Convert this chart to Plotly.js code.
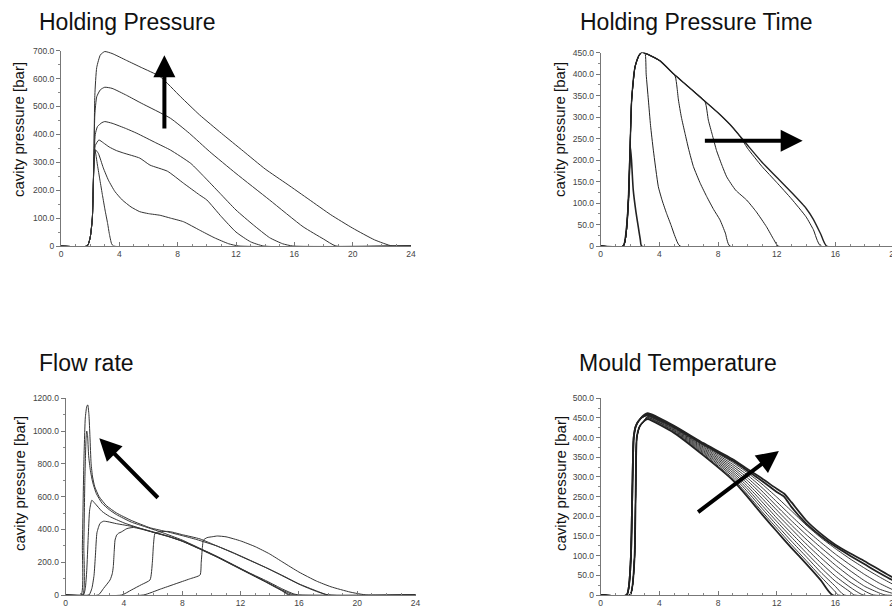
<!DOCTYPE html>
<html>
<head>
<meta charset="utf-8">
<script src="https://cdn.plot.ly/plotly-3.0.1.min.js"></script>
<style>
html,body{margin:0;padding:0;overflow:hidden;background:#fff;}
#chart{width:960px;height:608px;}
</style>
</head>
<body>
<div id="chart"></div>
<script>
// ---------- Tick labels ----------
const xTickVals = [0, 4, 8, 12, 16, 20, 24];
const xTickText = ['0', '4', '8', '12', '16', '20', '24'];
const hpTickVals = [0, 100, 200, 300, 400, 500, 600, 700];
const hpTickText = ['0', '100.0', '200.0', '300.0', '400.0', '500.0', '600.0', '700.0'];
const hptTickVals = [0, 50, 100, 150, 200, 250, 300, 350, 400, 450];
const hptTickText = ['0', '50.0', '100.0', '150.0', '200.0', '250.0', '300.0', '350.0', '400.0', '450.0'];
const frTickVals = [0, 200, 400, 600, 800, 1000, 1200];
const frTickText = ['0', '200.0', '400.0', '600.0', '800.0', '1000.0', '1200.0'];
const mtTickVals = [0, 50, 100, 150, 200, 250, 300, 350, 400, 450, 500];
const mtTickText = ['0', '50.0', '100.0', '150.0', '200.0', '250.0', '300.0', '350.0', '400.0', '450.0', '500.0'];

// ---------- Titles ----------
const panelTitles = ['Holding Pressure', 'Holding Pressure Time', 'Flow rate', 'Mould Temperature'];
const yTitle = 'cavity pressure [bar]';

// ---------- Holding Pressure (time [s], cavity pressure [bar]) ----------
const hpA_x = [0, 1.8, 2.0, 2.15, 2.25, 2.32, 2.45, 2.7, 3.0, 3.5, 4.5, 5.5, 6.8, 8.2, 9.5, 11, 12.5, 14, 15.5, 17, 18.5, 20, 21.5, 22.7, 24];
const hpA_y = [0, 0, 30, 100, 300, 540, 640, 685, 697, 690, 665, 640, 607, 535, 470, 404, 340, 276, 222, 167, 112, 64, 22, 0, 0];
const hpB_x = [0, 1.8, 2.0, 2.15, 2.25, 2.32, 2.45, 2.7, 3.0, 3.5, 4.5, 5.5, 7.5, 8.8, 10.2, 12, 14.3, 16.6, 18, 18.85, 24];
const hpB_y = [0, 0, 30, 100, 300, 470, 535, 560, 569, 565, 540, 512, 458, 404, 338, 260, 165, 69, 25, 0, 0];
const hpC_x = [0, 1.8, 2.0, 2.15, 2.25, 2.35, 2.5, 2.8, 3.0, 3.5, 4.5, 5.2, 6.5, 7.5, 8.9, 9.8, 10.9, 12, 13.2, 14.3, 15.2, 15.9, 24];
const hpC_y = [0, 0, 30, 100, 300, 400, 428, 442, 446, 440, 420, 404, 370, 344, 296, 249, 189, 129, 75, 30, 8, 0, 0];
const hpD_x = [0, 1.8, 2.0, 2.15, 2.25, 2.35, 2.6, 2.9, 3.3, 3.8, 4.3, 5.4, 6.1, 7.3, 8.4, 9.5, 10, 11, 12, 13, 13.9, 24];
const hpD_y = [0, 0, 30, 100, 280, 360, 380, 370, 355, 342, 333, 315, 290, 268, 225, 183, 165, 105, 50, 15, 0, 0];
const hpE_x = [0, 1.8, 2.0, 2.15, 2.25, 2.35, 2.56, 2.9, 3.25, 3.7, 4.2, 4.8, 5.4, 6.0, 6.8, 7.5, 8.4, 9.5, 10.5, 11.5, 12.2, 24];
const hpE_y = [0, 0, 30, 100, 280, 345, 332, 280, 236, 195, 165, 140, 123, 116, 110, 100, 87, 57, 30, 8, 0, 0];
const hpF_x = [0, 1.8, 2.0, 2.15, 2.25, 2.33, 2.5, 2.67, 2.85, 3.02, 3.2, 3.31, 3.47, 3.6, 24];
const hpF_y = [0, 0, 30, 100, 280, 344, 290, 236, 180, 129, 80, 45, 8, 0, 0];

// ---------- Holding Pressure Time ----------
const hpt1_x = [0, 1.54, 1.75, 1.89, 1.97, 2.03, 2.1, 2.22, 2.4, 2.56, 2.7, 2.79, 24];
const hpt1_y = [0, 0, 40, 107, 190, 230, 200, 130, 80, 45, 15, 0, 0];
const hpt2_x = [0, 1.54, 1.89, 2.0, 2.11, 2.34, 2.6, 2.8, 3.02, 3.1, 3.25, 3.4, 3.59, 3.93, 4.2, 4.49, 4.8, 5.07, 5.4, 24];
const hpt2_y = [0, 0, 107, 223, 340, 417, 443, 451, 449, 400, 340, 280, 223, 138, 105, 76, 48, 22, 0, 0];
const hpt3_x = [0, 1.54, 1.89, 2.0, 2.11, 2.34, 2.6, 2.8, 3.02, 4.0, 5.07, 5.2, 5.3, 5.5, 5.75, 6.0, 6.32, 6.8, 7.23, 7.7, 8.13, 8.5, 8.8, 24];
const hpt3_y = [0, 0, 107, 223, 340, 417, 443, 451, 449, 432, 396, 370, 340, 300, 262, 225, 185, 145, 115, 85, 61, 30, 0, 0];
const hpt4_x = [0, 1.54, 1.89, 2.0, 2.11, 2.34, 2.6, 2.8, 3.02, 4.0, 5.0, 6.0, 7.11, 7.34, 7.6, 7.9, 8.3, 8.59, 9.2, 9.95, 10.6, 11.3, 11.8, 12.1, 24];
const hpt4_y = [0, 0, 107, 223, 340, 417, 443, 451, 449, 432, 400, 370, 336, 293, 260, 222, 185, 161, 130, 107, 80, 45, 15, 0, 0];
const hpt5_x = [0, 1.54, 1.89, 2.0, 2.11, 2.34, 2.6, 2.8, 3.02, 4.0, 5.0, 6.0, 7.0, 8.0, 9.0, 9.5, 10, 11, 12, 13, 14, 14.5, 15.0, 24];
const hpt5_y = [0, 0, 107, 223, 340, 417, 443, 451, 449, 432, 400, 370, 340, 310, 276, 255, 228, 185, 148, 110, 68, 38, 0, 0];
const hpt6_x = [0, 1.54, 1.89, 2.0, 2.11, 2.34, 2.6, 2.8, 3.02, 4.0, 5.0, 6.0, 7.0, 8.0, 9.0, 10, 11, 12, 13, 14, 14.5, 15.0, 15.4, 24];
const hpt6_y = [0, 0, 107, 223, 340, 417, 443, 451, 449, 432, 400, 370, 340, 310, 276, 235, 195, 160, 125, 88, 62, 28, 0, 0];

// ---------- Flow rate ----------
const fr1_x = [0, 1.06, 1.15, 1.25, 1.35, 1.45, 1.52, 1.6, 1.67, 1.75, 1.85, 2.0, 2.3, 2.8, 3.5, 4.5, 5.8, 7.0, 8.0, 9.0, 10.4, 11.5, 12.6, 13.7, 14.9, 16, 17.2, 18.0, 24];
const fr1_y = [0, 0, 300, 800, 1080, 1150, 1160, 1100, 966, 800, 720, 660, 600, 545, 500, 455, 410, 385, 362, 338, 298, 258, 214, 168, 118, 68, 25, 0, 0];
const fr2_x = [0, 1.17, 1.25, 1.32, 1.4, 1.45, 1.5, 1.58, 1.7, 1.85, 2.1, 2.5, 3.0, 3.5, 4.5, 5.5, 6.5, 8, 9.2, 10.4, 11.5, 12.6, 13.8, 14.9, 15.6, 16.0, 24];
const fr2_y = [0, 0, 300, 700, 950, 1000, 980, 850, 760, 690, 620, 560, 520, 490, 445, 415, 385, 335, 285, 235, 185, 135, 85, 35, 8, 0, 0];
const fr3_x = [0, 1.22, 1.35, 1.45, 1.55, 1.65, 1.8, 2.0, 2.5, 3.0, 4.0, 5.0, 6.0, 7.0, 8.0, 9.2, 10.4, 11.5, 12.6, 13.8, 14.9, 15.5, 15.8, 24];
const fr3_y = [0, 0, 40, 150, 350, 520, 578, 560, 510, 480, 440, 410, 382, 358, 328, 282, 232, 182, 132, 78, 28, 5, 0, 0];
const fr4_x = [0, 1.6, 1.8, 1.95, 2.05, 2.15, 2.36, 2.6, 2.9, 3.5, 4.65, 5.8, 7.0, 8.0, 9.2, 10.4, 11.5, 12.6, 13.8, 14.9, 15.4, 24];
const fr4_y = [0, 0, 40, 120, 250, 380, 437, 450, 447, 435, 417, 390, 360, 330, 283, 233, 183, 133, 78, 25, 0, 0];
const fr5_x = [0, 2.24, 2.6, 3.05, 3.2, 3.27, 3.33, 3.39, 3.5, 3.62, 3.85, 4.2, 4.65, 5.8, 7.0, 8.0, 9.2, 10.4, 11.5, 12.6, 13.8, 14.9, 15.3, 24];
const fr5_y = [0, 0, 40, 92, 130, 173, 260, 335, 365, 376, 386, 405, 412, 388, 358, 328, 280, 230, 180, 130, 75, 22, 0, 0];
const fr6_x = [0, 3.85, 4.5, 5.2, 5.79, 5.95, 6.02, 6.13, 6.47, 7.0, 7.2, 8.0, 9.22, 10.4, 11.5, 12.6, 13.8, 14.9, 16.1, 17.2, 18.0, 24];
const fr6_y = [0, 0, 30, 63, 92, 200, 300, 376, 386, 388, 386, 368, 342, 298, 256, 212, 165, 115, 62, 22, 0, 0];
const fr7_x = [0, 5.33, 6.5, 7.5, 8.5, 9.22, 9.3, 9.38, 9.45, 9.7, 10.1, 10.4, 11.0, 12.0, 13.0, 14.0, 14.9, 16.0, 17.2, 18.2, 19.5, 20.2, 20.65, 24];
const fr7_y = [0, 0, 36, 67, 98, 122, 200, 290, 335, 350, 356, 360, 355, 330, 295, 250, 200, 140, 85, 50, 18, 6, 0, 0];

// ---------- Mould Temperature ----------
const mtRiseA_x = [0, 1.77, 2.05, 2.15, 2.25, 2.4, 2.7];
const mtRiseA_y = [0, 0, 90, 250, 400, 430, 448];
const mtRiseB_x = [0, 2.0, 2.3, 2.38, 2.46, 2.65, 2.95];
const mtRiseB_y = [0, 0, 90, 250, 400, 428, 442];
const mt1_x = [3.2, 5, 7, 9, 10, 11, 12, 13, 14, 15, 15.8, 24];
const mt1_y = [447, 412, 355, 292, 250, 205, 162, 120, 80, 38, 0, 0];
const mt2_x = [3.2, 5, 7, 9, 10, 11, 12, 13, 14, 15, 16, 16.2, 24];
const mt2_y = [449, 414, 358, 297, 256, 212, 170, 128, 88, 47, 8, 0, 0];
const mt3_x = [3.2, 5, 7, 9, 10, 11, 12, 13, 14, 15, 16, 16.6, 24];
const mt3_y = [451, 416, 361, 302, 263, 220, 178, 137, 98, 58, 22, 0, 0];
const mt4_x = [3.2, 5, 7, 9, 10, 11, 12, 13, 14, 15, 16, 17, 17.3, 24];
const mt4_y = [452, 418, 364, 307, 270, 228, 187, 147, 108, 70, 35, 8, 0, 0];
const mt5_x = [3.2, 5, 7, 9, 10, 11, 12, 13, 14, 15, 16, 17, 17.9, 24];
const mt5_y = [454, 420, 367, 312, 277, 237, 196, 157, 119, 82, 48, 20, 0, 0];
const mt6_x = [3.2, 5, 7, 9, 10, 11, 12, 13, 14, 15, 16, 17, 18, 18.6, 24];
const mt6_y = [455, 422, 370, 317, 284, 246, 206, 168, 130, 95, 62, 33, 10, 0, 0];
const mt7_x = [3.2, 5, 7, 9, 10, 11, 12, 13, 14, 15, 16, 17, 18, 19, 19.4, 24];
const mt7_y = [456, 424, 373, 322, 291, 255, 216, 178, 142, 108, 76, 47, 22, 5, 0, 0];
const mt8_x = [3.2, 5, 7, 9, 10, 11, 12, 13, 14, 15, 16, 17, 18, 19, 20, 20.3, 24];
const mt8_y = [457, 425, 376, 327, 298, 264, 226, 189, 154, 121, 90, 62, 36, 15, 3, 0, 0];
const mt9_x = [3.2, 5, 7, 9, 10, 11, 12, 13, 14, 15, 16, 17, 18, 19, 20, 21, 24];
const mt9_y = [458, 426, 379, 332, 305, 273, 237, 201, 166, 134, 104, 77, 52, 30, 12, 0, 0];
const mt10_x = [3.2, 5, 7, 9, 10, 11, 12, 13, 14, 15, 16, 17, 18, 19, 20, 22, 24];
const mt10_y = [459, 427, 381, 337, 311, 282, 249, 214, 178, 146, 118, 92, 68, 46, 26, 0, 0];
const mt11_x = [3.2, 5, 7, 9, 10, 11, 12, 12.5, 13, 14, 15, 16, 17, 18, 19, 20, 22, 23, 24];
const mt11_y = [460, 428, 383, 341, 316, 290, 262, 250, 224, 182, 150, 123, 100, 78, 56, 36, 8, 0, 0];
const mt12_x = [3.2, 5, 7, 9, 10, 11, 12, 12.5, 13, 14, 15, 16, 17, 18, 19, 20, 22, 24];
const mt12_y = [462, 430, 386, 345, 320, 296, 270, 258, 236, 190, 156, 128, 106, 86, 64, 43, 14, 2];

// ---------- Arrows (tail -> head, data units) ----------
const arrowHP = {tail: [7.09, 416], head: [7.09, 684]};
const arrowHPT = {tail: [7.0, 245], head: [13.77, 245]};
const arrowFR = {tail: [6.43, 584], head: [2.31, 956]};
const arrowMT = {tail: [6.54, 208], head: [12.15, 366]};

// ---------- Build ----------
const W = 960, H = 608;
const traces = [];
function addLine(x, y, xa, ya, w, c) {
  traces.push({x: x, y: y, xaxis: xa, yaxis: ya, type: 'scatter', mode: 'lines',
    line: {color: c, width: w, shape: 'spline', smoothing: 0.5}, hoverinfo: 'skip', showlegend: false});
}
[[hpA_x,hpA_y],[hpB_x,hpB_y],[hpC_x,hpC_y],[hpD_x,hpD_y],[hpE_x,hpE_y],[hpF_x,hpF_y]]
  .forEach(p => addLine(p[0], p[1], 'x', 'y', 1, '#333'));
[[hpt1_x,hpt1_y,1.6],[hpt2_x,hpt2_y,1],[hpt3_x,hpt3_y,1],[hpt4_x,hpt4_y,1],[hpt5_x,hpt5_y,1],[hpt6_x,hpt6_y,1.4]]
  .forEach(p => addLine(p[0], p[1], 'x2', 'y2', p[2], '#222'));
[[fr1_x,fr1_y],[fr2_x,fr2_y],[fr3_x,fr3_y],[fr4_x,fr4_y],[fr5_x,fr5_y],[fr6_x,fr6_y],[fr7_x,fr7_y]]
  .forEach(p => addLine(p[0], p[1], 'x3', 'y3', 1, '#333'));
const mtCurves = [[mt1_x,mt1_y],[mt2_x,mt2_y],[mt3_x,mt3_y],[mt4_x,mt4_y],[mt5_x,mt5_y],[mt6_x,mt6_y],
  [mt7_x,mt7_y],[mt8_x,mt8_y],[mt9_x,mt9_y],[mt10_x,mt10_y],[mt11_x,mt11_y],[mt12_x,mt12_y]];
mtCurves.forEach((p, i) => {
  const rise = i < 6 ? [mtRiseB_x, mtRiseB_y] : [mtRiseA_x, mtRiseA_y];
  const w = (i === 0 || i >= 10) ? 1.8 : 0.9;
  addLine(rise[0].concat(p[0]), rise[1].concat(p[1]), 'x4', 'y4', w, '#222');
});

function px(v) { return v / W; }
function py(v) { return 1 - v / H; }

const tickFont = {family: 'Liberation Sans, Arial, sans-serif', size: 8.5, color: '#444'};
function xAxis(d0, d1, anchor) {
  return {domain: [px(d0), px(d1)], range: [0, 24], anchor: anchor,
    tickmode: 'array', tickvals: xTickVals, ticktext: xTickText,
    showline: true, linecolor: '#777', linewidth: 1, ticks: 'inside', ticklen: 4, tickcolor: '#777',
    minor: {dtick: 1, ticklen: 2, tickcolor: '#888', ticks: 'inside'},
    tickfont: tickFont, showgrid: false, zeroline: false, fixedrange: true};
}
function yAxis(top, bottom, max, tv, tt, minor, anchor) {
  return {domain: [py(bottom), py(top)], range: [0, max], anchor: anchor,
    tickmode: 'array', tickvals: tv, ticktext: tt,
    showline: true, linecolor: '#777', linewidth: 1, ticks: 'outside', ticklen: 4, tickcolor: '#777',
    minor: {dtick: minor, ticklen: 2, tickcolor: '#888', ticks: 'outside'},
    tickfont: tickFont, showgrid: false, zeroline: false, fixedrange: true};
}

const titleFont = {family: 'Liberation Sans, Arial, sans-serif', size: 23, color: '#111'};
const yTitleFont = {family: 'Liberation Sans, Arial, sans-serif', size: 15, color: '#111'};
const annotations = [
  {text: panelTitles[0], x: px(37), y: py(22), xanchor: 'left', yanchor: 'middle'},
  {text: panelTitles[1], x: px(578), y: py(22), xanchor: 'left', yanchor: 'middle'},
  {text: panelTitles[2], x: px(37), y: py(363), xanchor: 'left', yanchor: 'middle'},
  {text: panelTitles[3], x: px(577), y: py(363), xanchor: 'left', yanchor: 'middle'}
].map(a => Object.assign(a, {xref: 'paper', yref: 'paper', showarrow: false, font: titleFont}));
[[19, 130], [560, 130], [19, 484], [560, 484]].forEach(p => {
  annotations.push({text: yTitle, x: px(p[0]), y: py(p[1]), xref: 'paper', yref: 'paper',
    xanchor: 'center', yanchor: 'middle', textangle: -90, showarrow: false, font: yTitleFont});
});
[[arrowHP, 'x', 'y'], [arrowHPT, 'x2', 'y2'], [arrowFR, 'x3', 'y3'], [arrowMT, 'x4', 'y4']].forEach(a => {
  annotations.push({text: '', x: a[0].head[0], y: a[0].head[1], ax: a[0].tail[0], ay: a[0].tail[1],
    xref: a[1], yref: a[2], axref: a[1], ayref: a[2], showarrow: true,
    arrowhead: 2, arrowsize: 1.1, arrowwidth: 4, arrowcolor: '#000', standoff: 0});
});

const layout = {
  width: W, height: H, margin: {l: 0, r: 0, t: 0, b: 0},
  paper_bgcolor: '#fff', plot_bgcolor: 'rgba(0,0,0,0)', showlegend: false,
  font: {family: 'Liberation Sans, Arial, sans-serif'},
  xaxis: xAxis(61, 411, 'y'),
  yaxis: yAxis(50.7, 246, 700, hpTickVals, hpTickText, 50, 'x'),
  xaxis2: xAxis(600.7, 952.7, 'y2'),
  yaxis2: yAxis(52.7, 246, 450, hptTickVals, hptTickText, 25, 'x2'),
  xaxis3: xAxis(65.6, 415.6, 'y3'),
  yaxis3: yAxis(398.3, 595, 1200, frTickVals, frTickText, 100, 'x3'),
  xaxis4: xAxis(600.7, 952.7, 'y4'),
  yaxis4: yAxis(398.3, 595, 500, mtTickVals, mtTickText, 25, 'x4'),
  annotations: annotations
};
Plotly.newPlot('chart', traces, layout, {displayModeBar: false, staticPlot: true});
</script>
</body>
</html>
